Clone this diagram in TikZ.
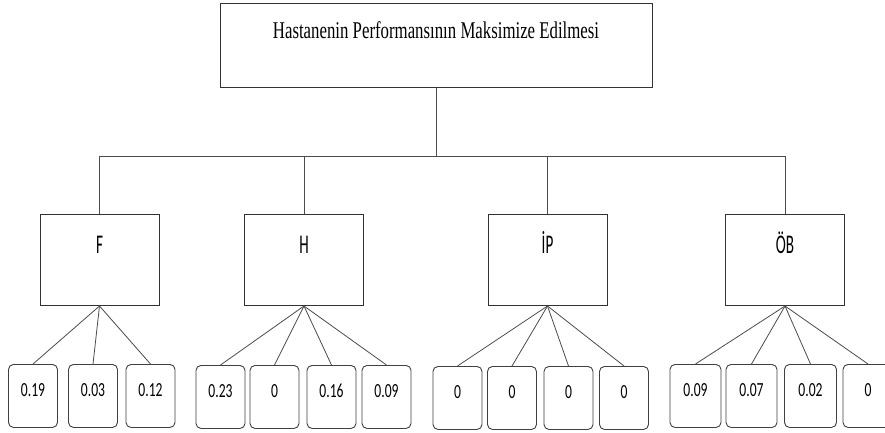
\documentclass[tikz,border=0pt]{standalone}
\usepackage{fontspec}
\newfontfamily\titlefont[FakeStretch=0.7]{Liberation Serif}
\newfontfamily\critfont[FakeStretch=0.56]{Carlito}
\newfontfamily\leaffont[FakeStretch=0.68]{Carlito}

\tikzset{
    goalbox/.style={draw=black!80, line width=1pt, minimum width=432pt, inner sep=0pt,
        text height=35pt, text depth=49pt, font=\titlefont\fontsize{24}{28}\selectfont},
    critbox/.style={draw=black!80, line width=1pt, minimum width=119pt, inner sep=0pt,
        text height=39pt, text depth=52pt, font=\critfont\fontsize{27}{32}\selectfont},
    leafbox/.style={draw=black!75, line width=0.9pt, rounded corners=5pt, minimum width=49pt, inner sep=0pt,
        text height=32pt, text depth=31pt, font=\leaffont\fontsize{20}{24}\selectfont},
    link/.style={black!70, line width=0.8pt}
}

\begin{document}
\begin{tikzpicture}[x=1pt, y=-1pt]
        \clip (0,0) rectangle (885,432);
        \fill[white] (0,0) rectangle (885,432);

        \node[goalbox, anchor=north] (goal) at (436,3) {Hastanenin Performansının Maksimize Edilmesi};
        \coordinate (bus) at (436,156);

        \node[critbox, anchor=north] (F) at (99.5,214) {F};
        \node[critbox, anchor=north] (H) at (304,214) {H};
        \node[critbox, anchor=north] (IP) at (547.5,214) {İP};
        \node[critbox, anchor=north] (OB) at (785,214) {ÖB};

        \draw[link] (goal.south) -- (bus);
        \foreach \c in {F,H,IP,OB}
            \draw[link] (bus) -| (\c.north);

        % F
        \node[leafbox, anchor=north] (f1) at (33,364) {0.19};
        \node[leafbox, anchor=north] (f2) at (93,364) {0.03};
        \node[leafbox, anchor=north] (f3) at (150.5,364) {0.12};

        % H
        \node[leafbox, anchor=north] (h1) at (220.5,365) {0.23};
        \node[leafbox, anchor=north] (h2) at (274.5,365) {0};
        \node[leafbox, anchor=north] (h3) at (331.5,365) {0.16};
        \node[leafbox, anchor=north] (h4) at (386.5,365) {0.09};

        % IP
        \node[leafbox, anchor=north] (i1) at (457.5,366) {0};
        \node[leafbox, anchor=north] (i2) at (512,366) {0};
        \node[leafbox, anchor=north] (i3) at (568.5,366) {0};
        \node[leafbox, anchor=north] (i4) at (624,366) {0};

        % OB
        \node[leafbox, minimum width=51pt, anchor=north] (o1) at (695.5,364) {0.09};
        \node[leafbox, minimum width=51pt, anchor=north] (o2) at (751.5,364) {0.07};
        \node[leafbox, minimum width=52pt, anchor=north] (o3) at (810.5,364) {0.02};
        \node[leafbox, minimum width=50pt, anchor=north] (o4) at (868,364) {0};

        \foreach \l in {f1,f2,f3}
            \draw[link] (F.south) -- (\l.north);
        \foreach \l in {h1,h2,h3,h4}
            \draw[link] (H.south) -- (\l.north);
        \foreach \l in {i1,i2,i3,i4}
            \draw[link] (IP.south) -- (\l.north);
        \foreach \l in {o1,o2,o3,o4}
            \draw[link] (OB.south) -- (\l.north);
    \end{tikzpicture}
\end{document}
